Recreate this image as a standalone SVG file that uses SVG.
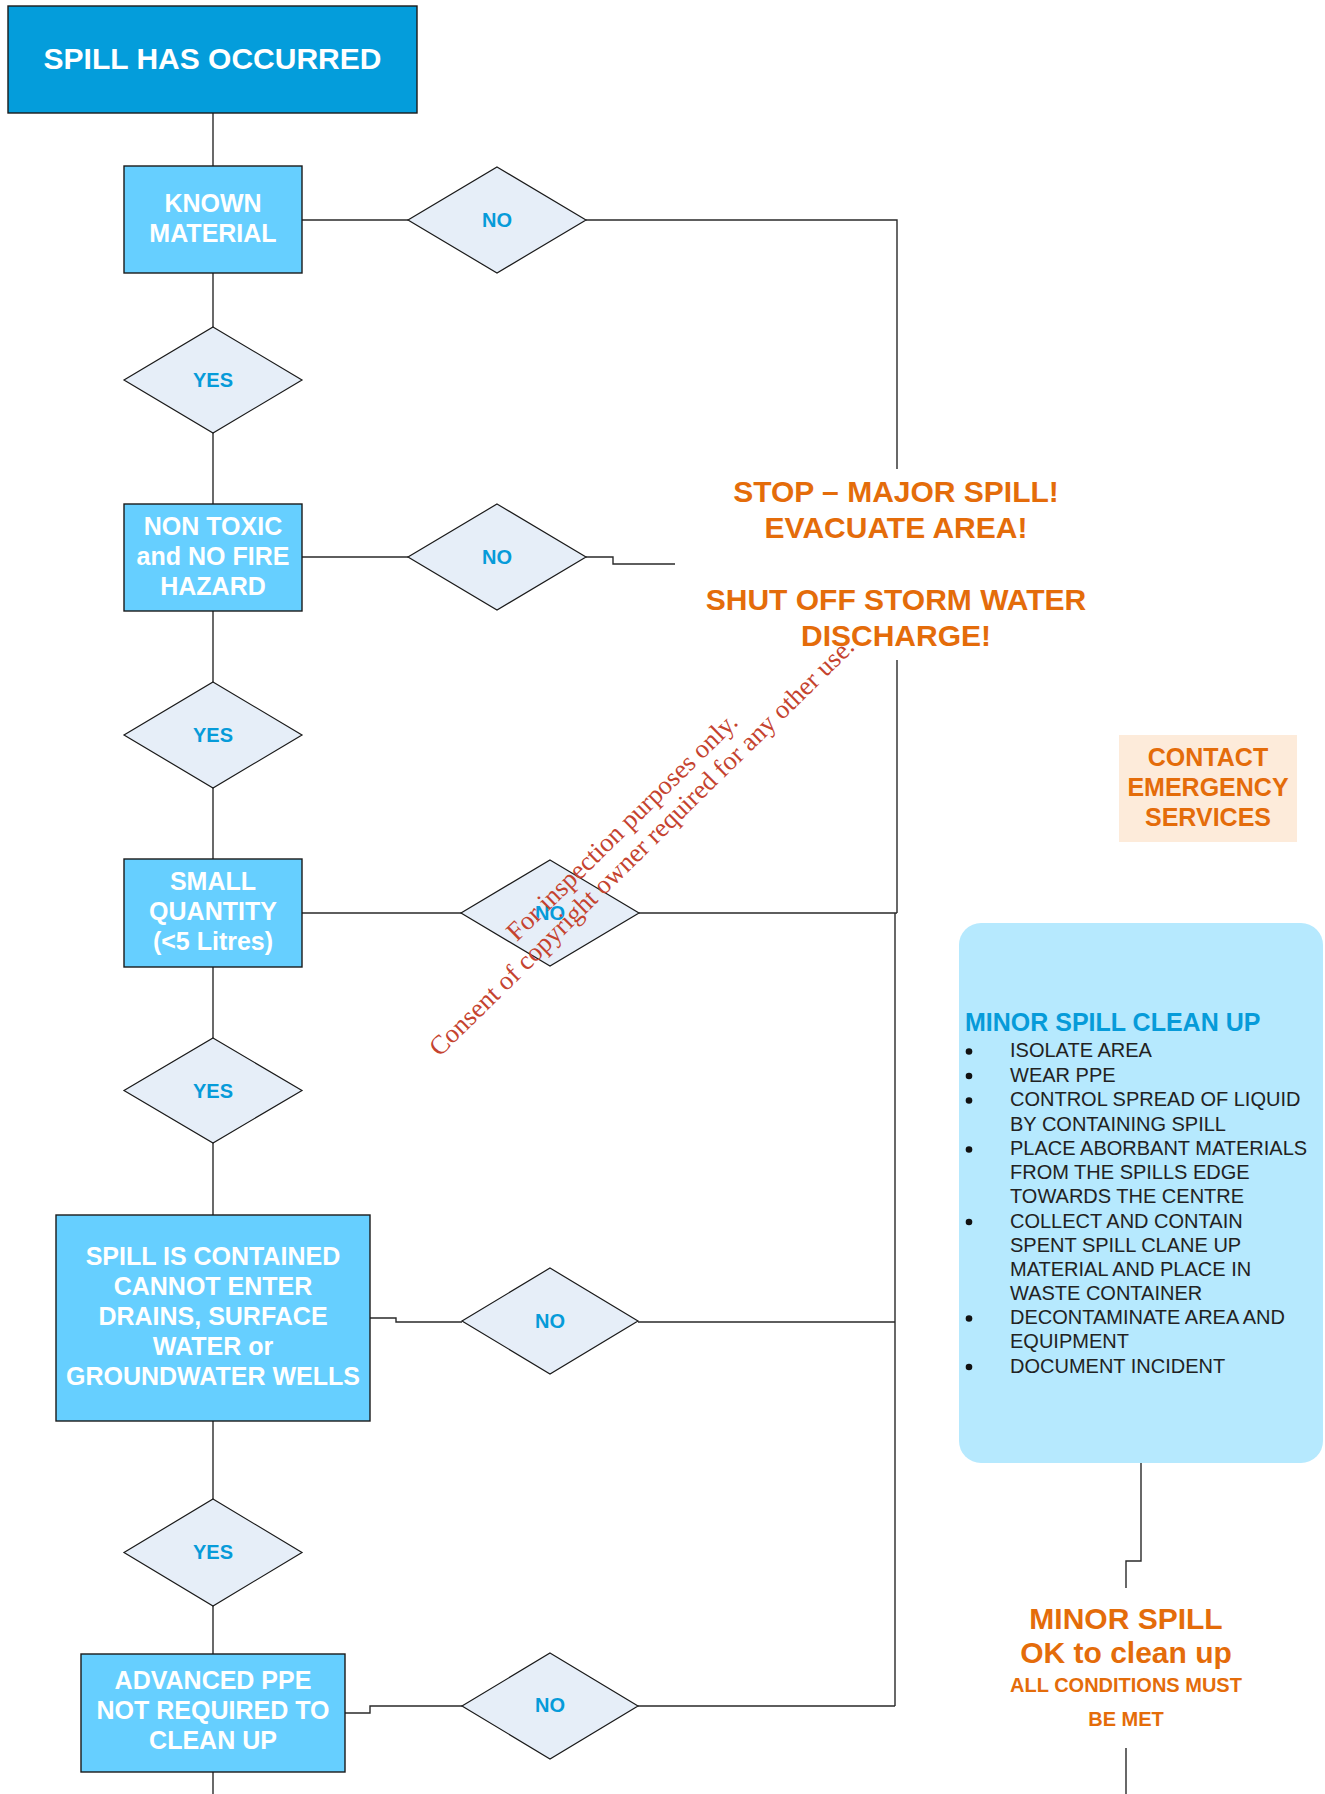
<svg xmlns="http://www.w3.org/2000/svg" width="1325" height="1794" viewBox="0 0 1325 1794">
<style>
  .ln { fill: none; stroke: #2a2a2a; stroke-width: 1.4; }
  .box { fill: #66CFFF; stroke: #1a1a1a; stroke-width: 1.4; }
  .top { fill: #049DDB; stroke: #1a1a1a; stroke-width: 1.4; }
  .dia { fill: #E6EEF8; stroke: #1a1a1a; stroke-width: 1.2; }
  text { font-family: "Liberation Sans", Arial, sans-serif; }
  .bt { fill: #ffffff; font-weight: bold; font-size: 25px; text-anchor: middle; }
  .big { font-size: 30px; }
  .dt { fill: #069BD9; font-weight: bold; font-size: 20px; text-anchor: middle; }
  .or { fill: #E46C0A; font-weight: bold; text-anchor: middle; }
  .li { fill: #222222; font-size: 20px; }
  .wm { fill: #C5432F; font-family: "Liberation Serif", "Times New Roman", serif; font-size: 26.5px; text-anchor: middle; }
</style>

<g id="connectors">
  <path class="ln" d="M213,113 V1794"/>
  <path class="ln" d="M302,220 H408 M586,220 H897 V469"/>
  <path class="ln" d="M302,557 H408 M586,557 H613 V564 H675"/>
  <path class="ln" d="M897,660 V913 M302,913 H462 M639,913 H897 M895,913 V1706"/>
  <path class="ln" d="M370,1318 H396 V1322 H462 M638,1322 H895"/>
  <path class="ln" d="M345,1713 H370 V1706 H462 M638,1706 H895"/>
  <path class="ln" d="M1141,1463 V1561 H1126 V1588 M1126,1748 V1794"/>
</g>

<g id="spill-occurred">
  <rect class="top" x="8" y="6" width="409" height="107"/>
  <text class="bt big" x="212.5" y="69">SPILL HAS OCCURRED</text>
</g>

<g id="known-material">
  <rect class="box" x="124" y="166" width="178" height="107"/>
  <text class="bt" x="213" y="212">KNOWN</text>
  <text class="bt" x="213" y="242">MATERIAL</text>
</g>
<g id="no-1">
  <polygon class="dia" points="497,167 586,220 497,273 408,220"/>
  <text class="dt" x="497" y="227">NO</text>
</g>
<g id="yes-1">
  <polygon class="dia" points="213,327 302,380 213,433 124,380"/>
  <text class="dt" x="213" y="387">YES</text>
</g>

<g id="non-toxic">
  <rect class="box" x="124" y="504" width="178" height="107"/>
  <text class="bt" x="213" y="535">NON TOXIC</text>
  <text class="bt" x="213" y="565">and NO FIRE</text>
  <text class="bt" x="213" y="595">HAZARD</text>
</g>
<g id="no-2">
  <polygon class="dia" points="497,504 586,557 497,610 408,557"/>
  <text class="dt" x="497" y="564">NO</text>
</g>
<g id="yes-2">
  <polygon class="dia" points="213,682 302,735 213,788 124,735"/>
  <text class="dt" x="213" y="742">YES</text>
</g>

<g id="small-quantity">
  <rect class="box" x="124" y="859" width="178" height="108"/>
  <text class="bt" x="213" y="890">SMALL</text>
  <text class="bt" x="213" y="920">QUANTITY</text>
  <text class="bt" x="213" y="950">(&lt;5 Litres)</text>
</g>
<g id="no-3">
  <polygon class="dia" points="550,860 639,913 550,966 461,913"/>
  <text class="dt" x="550" y="920">NO</text>
</g>
<g id="yes-3">
  <polygon class="dia" points="213,1038 302,1090.5 213,1143 124,1090.5"/>
  <text class="dt" x="213" y="1097.5">YES</text>
</g>

<g id="spill-contained">
  <rect class="box" x="56" y="1215" width="314" height="206"/>
  <text class="bt" x="213" y="1265">SPILL IS CONTAINED</text>
  <text class="bt" x="213" y="1295">CANNOT ENTER</text>
  <text class="bt" x="213" y="1325">DRAINS, SURFACE</text>
  <text class="bt" x="213" y="1355">WATER or</text>
  <text class="bt" x="213" y="1385">GROUNDWATER WELLS</text>
</g>
<g id="no-4">
  <polygon class="dia" points="550,1268 638,1321 550,1374 462,1321"/>
  <text class="dt" x="550" y="1328">NO</text>
</g>
<g id="yes-4">
  <polygon class="dia" points="213,1499 302,1552.5 213,1606 124,1552.5"/>
  <text class="dt" x="213" y="1559">YES</text>
</g>

<g id="advanced-ppe">
  <rect class="box" x="81" y="1654" width="264" height="118"/>
  <text class="bt" x="213" y="1689">ADVANCED PPE</text>
  <text class="bt" x="213" y="1719">NOT REQUIRED TO</text>
  <text class="bt" x="213" y="1749">CLEAN UP</text>
</g>
<g id="no-5">
  <polygon class="dia" points="550,1653 638,1706 550,1759 462,1706"/>
  <text class="dt" x="550" y="1712">NO</text>
</g>

<g id="major-spill">
  <text class="or" x="896" y="502" font-size="30">STOP – MAJOR SPILL!</text>
  <text class="or" x="896" y="538" font-size="30">EVACUATE AREA!</text>
  <text class="or" x="896" y="610" font-size="30">SHUT OFF STORM WATER</text>
  <text class="or" x="896" y="646" font-size="30">DISCHARGE!</text>
</g>

<g id="contact-emergency">
  <rect x="1119" y="735" width="178" height="107" fill="#FDEBDA"/>
  <text class="or" x="1208" y="766" font-size="25">CONTACT</text>
  <text class="or" x="1208" y="796" font-size="25">EMERGENCY</text>
  <text class="or" x="1208" y="826" font-size="25">SERVICES</text>
</g>

<g id="minor-spill-clean-up">
  <rect x="959" y="923" width="364" height="540" rx="22" ry="22" fill="#B6E9FE"/>
  <text x="965" y="1031" fill="#069BD9" font-weight="bold" font-size="25">MINOR SPILL CLEAN UP</text>
  <g fill="#111">
    <circle cx="969" cy="1051.5" r="3.3"/>
    <circle cx="969" cy="1076" r="3.3"/>
    <circle cx="969" cy="1100.5" r="3.3"/>
    <circle cx="969" cy="1149.5" r="3.3"/>
    <circle cx="969" cy="1222" r="3.3"/>
    <circle cx="969" cy="1318.5" r="3.3"/>
    <circle cx="969" cy="1367" r="3.3"/>
  </g>
  <text class="li" x="1010" y="1057">ISOLATE AREA</text>
  <text class="li" x="1010" y="1081.5">WEAR PPE</text>
  <text class="li" x="1010" y="1106">CONTROL SPREAD OF LIQUID</text>
  <text class="li" x="1010" y="1130.5">BY CONTAINING SPILL</text>
  <text class="li" x="1010" y="1155">PLACE ABORBANT MATERIALS</text>
  <text class="li" x="1010" y="1179">FROM THE SPILLS EDGE</text>
  <text class="li" x="1010" y="1203">TOWARDS THE CENTRE</text>
  <text class="li" x="1010" y="1227.5">COLLECT AND CONTAIN</text>
  <text class="li" x="1010" y="1251.5">SPENT SPILL CLANE UP</text>
  <text class="li" x="1010" y="1276">MATERIAL AND PLACE IN</text>
  <text class="li" x="1010" y="1300">WASTE CONTAINER</text>
  <text class="li" x="1010" y="1324">DECONTAMINATE AREA AND</text>
  <text class="li" x="1010" y="1348">EQUIPMENT</text>
  <text class="li" x="1010" y="1372.5">DOCUMENT INCIDENT</text>
</g>

<g id="minor-spill-ok">
  <text class="or" x="1126" y="1629" font-size="30">MINOR SPILL</text>
  <text class="or" x="1126" y="1663" font-size="30">OK to clean up</text>
  <text class="or" x="1126" y="1692" font-size="20">ALL CONDITIONS MUST</text>
  <text class="or" x="1126" y="1726" font-size="20">BE MET</text>
</g>

<g id="watermark" transform="translate(628,833) rotate(-44.5)">
  <text class="wm" x="0" y="0">For inspection purposes only.</text>
  <text class="wm" x="0" y="28">Consent of copyright owner required for any other use.</text>
</g>
</svg>
